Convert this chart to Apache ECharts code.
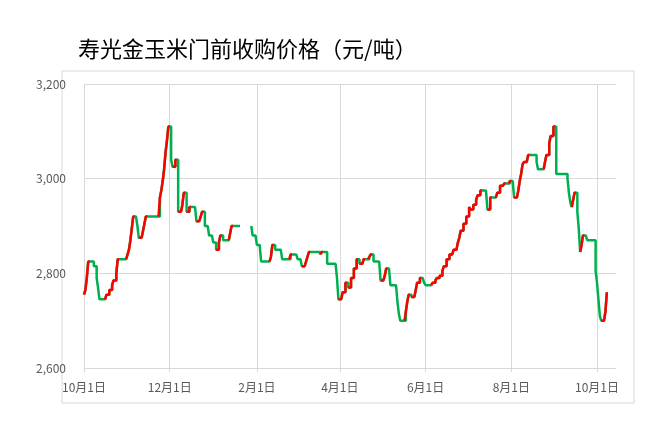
<!DOCTYPE html>
<html lang="zh-CN">
  <head>
    <meta charset="UTF-8" />
    <title>寿光金玉米门前收购价格</title>
    <script src="https://cdn.jsdelivr.net/npm/echarts@6/dist/echarts.min.js"></script>
    <style>
      html, body { margin: 0; padding: 0; background: #fff; }
      #main { width: 662px; height: 429px; }
    </style>
  </head>
  <body>
    <div id="main"></div>
    <script>
      // 价格变动日期与变动后的价格（null 表示春节停收）
      const startDate = '2022-10-01'
      const endDate = '2023-10-08'
      const changeDates = [
        '2022-10-01', '2022-10-02', '2022-10-03', '2022-10-04', '2022-10-08', '2022-10-10', '2022-10-11', '2022-10-12',
        '2022-10-17', '2022-10-19', '2022-10-21', '2022-10-22', '2022-10-24', '2022-10-25',
        '2022-11-01', '2022-11-02', '2022-11-03', '2022-11-04', '2022-11-05', '2022-11-08', '2022-11-09', '2022-11-12',
        '2022-11-13', '2022-11-14', '2022-11-24', '2022-11-25', '2022-11-26', '2022-11-27', '2022-11-28', '2022-11-29', '2022-11-30',
        '2022-12-02', '2022-12-03', '2022-12-05', '2022-12-07', '2022-12-10', '2022-12-11', '2022-12-13', '2022-12-15',
        '2022-12-20', '2022-12-23', '2022-12-24', '2022-12-26', '2022-12-29',
        '2023-01-01', '2023-01-03', '2023-01-05', '2023-01-06', '2023-01-08', '2023-01-13', '2023-01-14', '2023-01-20',
        '2023-01-28', '2023-01-29',
        '2023-02-01', '2023-02-04', '2023-02-11', '2023-02-12', '2023-02-14', '2023-02-19', '2023-02-25',
        '2023-03-02', '2023-03-05', '2023-03-08', '2023-03-09', '2023-03-10', '2023-03-18', '2023-03-19', '2023-03-23',
        '2023-03-30', '2023-03-31',
        '2023-04-03', '2023-04-05', '2023-04-07', '2023-04-09', '2023-04-11', '2023-04-13', '2023-04-15', '2023-04-18',
        '2023-04-22', '2023-04-23', '2023-04-25', '2023-04-30',
        '2023-05-03', '2023-05-04', '2023-05-07', '2023-05-12', '2023-05-13', '2023-05-14', '2023-05-18', '2023-05-19',
        '2023-05-20', '2023-05-22', '2023-05-25', '2023-05-26', '2023-05-28', '2023-05-31',
        '2023-06-01', '2023-06-06', '2023-06-08', '2023-06-09', '2023-06-11', '2023-06-13', '2023-06-14', '2023-06-16',
        '2023-06-18', '2023-06-21', '2023-06-24', '2023-06-25', '2023-06-26', '2023-06-28', '2023-06-30',
        '2023-07-02', '2023-07-03', '2023-07-05', '2023-07-07', '2023-07-08', '2023-07-10', '2023-07-15', '2023-07-17',
        '2023-07-22', '2023-07-24', '2023-07-27', '2023-07-31',
        '2023-08-03', '2023-08-06', '2023-08-07', '2023-08-08', '2023-08-09', '2023-08-10', '2023-08-13', '2023-08-19',
        '2023-08-20', '2023-08-25', '2023-08-26', '2023-08-28', '2023-08-29', '2023-08-31',
        '2023-09-02', '2023-09-10', '2023-09-11', '2023-09-12', '2023-09-13', '2023-09-14', '2023-09-15', '2023-09-17',
        '2023-09-18', '2023-09-19', '2023-09-20', '2023-09-21', '2023-09-24', '2023-09-30',
        '2023-10-01', '2023-10-02', '2023-10-03', '2023-10-04', '2023-10-07', '2023-10-08'
      ]
      const changePrices = [
        2755, 2765, 2790, 2825, 2815, 2790, 2770, 2745,
        2755, 2765, 2775, 2785, 2800, 2830,
        2840, 2850, 2870, 2895, 2920, 2900, 2875, 2890,
        2905, 2920, 2960, 2975, 2995, 3020, 3055, 3080, 3110,
        3040, 3025, 3040, 2930, 2945, 2970, 2930, 2940,
        2910, 2920, 2930, 2900, 2880,
        2865, 2850, 2865, 2880, 2870, 2885, 2900, null,
        2900, 2880,
        2860, 2825, 2835, 2860, 2850, 2830, 2840,
        2830, 2815, 2825, 2835, 2845, 2840, 2845, 2820,
        2790, 2745,
        2760, 2780, 2770, 2790, 2810, 2830, 2820, 2830,
        2835, 2840, 2825, 2785,
        2795, 2810, 2775, 2740, 2715, 2700, 2720, 2740,
        2755, 2750, 2765, 2780, 2790, 2780,
        2775, 2780, 2785, 2790, 2795, 2805, 2815, 2830,
        2840, 2850, 2865, 2875, 2890, 2905, 2920,
        2940, 2935, 2945, 2955, 2965, 2975, 2935, 2960,
        2970, 2985, 2990, 2995,
        2960, 2975, 2995, 3010, 3030, 3035, 3050, 3035,
        3020, 3035, 3050, 3075, 3090, 3110,
        3010, 3000, 2970, 2950, 2940, 2955, 2970, 2930,
        2895, 2845, 2860, 2880, 2870, 2805,
        2780, 2745, 2710, 2700, 2720, 2760
      ]
      const tickDates = ['2022-10-01', '2022-12-01', '2023-02-01', '2023-04-01', '2023-06-01', '2023-08-01', '2023-10-01']
      const tickLabels = ['10月1日', '12月1日', '2月1日', '4月1日', '6月1日', '8月1日', '10月1日']

      const toUTC = (s) => {
        const [y, m, d] = s.split('-').map(Number)
        return Date.UTC(y, m - 1, d)
      }
      const dayOf = (s) => Math.round((toUTC(s) - toUTC(startDate)) / 864e5)
      const tickDays = tickDates.map(dayOf)

      // 按日展开价格
      const changeDays = changeDates.map(dayOf)
      const lastDay = dayOf(endDate)
      const daily = []
      let k = 0
      let cur = null
      for (let d = 0; d <= lastDay; d++) {
        while (k < changeDays.length && changeDays[k] <= d) {
          cur = changePrices[k]
          k++
        }
        daily.push([d, cur])
      }

      // 上涨段：从上一个报价日（间隔不超过3天）画到涨价日，红色
      const redDay = new Array(daily.length).fill(false)
      for (let i = 1; i < changeDays.length; i++) {
        const a = changePrices[i - 1]
        const b = changePrices[i]
        if (a == null || b == null || b <= a) continue
        const e = changeDays[i]
        const s = e - changeDays[i - 1] <= 3 ? changeDays[i - 1] : e - 1
        for (let d = s; d <= e; d++) redDay[d] = true
      }
      const upData = daily.map((p, d) => (redDay[d] ? p : [d, null]))

      const myChart = echarts.init(document.getElementById('main'))
      const gridColor = '#d9d9d9'
      const font = '"Noto Sans CJK SC", "Noto Sans", sans-serif'

      const option = {
        animation: false,
        title: {
          text: '寿光金玉米门前收购价格（元/吨）',
          left: 73,
          top: 33,
          textStyle: { fontSize: 22, fontWeight: 'normal', color: '#000', fontFamily: font }
        },
        graphic: [
          {
            type: 'rect',
            shape: { x: 62, y: 71, width: 572, height: 332 },
            style: { fill: null, stroke: gridColor, lineWidth: 1 },
            silent: true
          }
        ],
        grid: { left: 84, right: 46, top: 84, bottom: 61 },
        xAxis: {
          type: 'value',
          min: 0,
          max: 378.5,
          axisLine: { show: true, lineStyle: { color: gridColor } },
          axisTick: { show: true, length: 4, customValues: tickDays, lineStyle: { color: gridColor } },
          axisLabel: {
            customValues: tickDays,
            margin: 13,
            color: '#595959',
            fontSize: 12,
            fontFamily: font,
            formatter: (v) => tickLabels[tickDays.indexOf(v)]
          },
          splitLine: { show: true, lineStyle: { color: gridColor } }
        },
        yAxis: {
          type: 'value',
          min: 2600,
          max: 3200,
          interval: 200,
          axisLine: { show: true, lineStyle: { color: gridColor } },
          axisTick: { show: false },
          axisLabel: {
            margin: 18,
            color: '#595959',
            fontSize: 12,
            fontFamily: font,
            formatter: (v) => v.toLocaleString('en-US')
          },
          splitLine: { lineStyle: { color: gridColor } }
        },
        series: [
          {
            name: '价格',
            type: 'line',
            step: 'end',
            data: daily,
            showSymbol: false,
            symbol: 'none',
            lineStyle: { color: '#00b050', width: 2.5 }
          },
          {
            name: '上涨',
            type: 'line',
            step: 'end',
            data: upData,
            showSymbol: false,
            symbol: 'none',
            lineStyle: { color: '#ff0000', width: 2.5 }
          }
        ]
      }

      myChart.setOption(option)
    </script>
  </body>
</html>
